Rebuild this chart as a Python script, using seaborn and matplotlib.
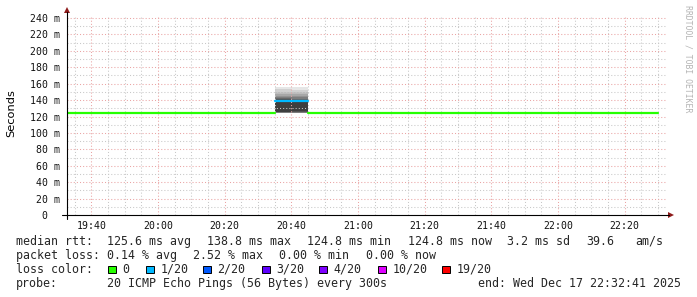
import numpy as np
import pandas as pd
import matplotlib
matplotlib.use("Agg")
import matplotlib.pyplot as plt
import matplotlib.dates as mdates
import seaborn as sns
from matplotlib.lines import Line2D
from matplotlib.patches import Rectangle, Polygon

# ---------------- data ----------------
first_step = "2025-12-17 19:30"
view_start = "2025-12-17 19:32:41"
view_end = "2025-12-17 22:32:41"

# median RTT (ms) per 5-minute step, 19:30 .. 22:25
median_ms = [124.8, 124.8, 124.8, 124.8, 124.8, 124.8, 124.8, 124.8, 124.8, 124.8,
             124.8, 124.8, 124.8, 138.8, 138.8, 124.8, 124.8, 124.8, 124.8, 124.8,
             124.8, 124.8, 124.8, 124.8, 124.8, 124.8, 124.8, 124.8, 124.8, 124.8,
             124.8, 124.8, 124.8, 124.8, 124.8, 124.8]
# lost pings (of 20) per step
lost_pings = [0, 0, 0, 0, 0, 0, 0, 0, 0, 0,
              0, 0, 0, 1, 1, 0, 0, 0, 0, 0,
              0, 0, 0, 0, 0, 0, 0, 0, 0, 0,
              0, 0, 0, 0, 0, 0]
# sorted individual pings (ms) for the two disturbed steps (20:35, 20:40)
smoke_steps = [13, 14]
smoke_pings_a = [124.3, 124.4, 124.5, 124.6, 124.7, 124.8, 124.9, 125.2, 126.0, 138.8,
                 139.6, 140.8, 142.0, 143.5, 145.5, 147.5, 150.0, 153.0, 156.0]
smoke_pings_b = [124.3, 124.4, 124.5, 124.6, 124.7, 124.8, 125.0, 125.3, 126.2, 138.8,
                 139.5, 140.6, 141.8, 143.2, 145.0, 147.0, 149.5, 152.5, 155.5]

y_ticks = [0, 20, 40, 60, 80, 100, 120, 140, 160, 180, 200, 220, 240]
y_labels = ["0  ", "20 m", "40 m", "60 m", "80 m", "100 m", "120 m", "140 m",
            "160 m", "180 m", "200 m", "220 m", "240 m"]

loss_labels = ["0", "1/20", "2/20", "3/20", "4/20", "10/20", "19/20"]
loss_colors = ["#26ff00", "#00b8ff", "#0059ff", "#5e00ff", "#7e00ff", "#dd00ff", "#ff0000"]
loss_palette = {0: "#26ff00", 1: "#00b8ff"}

stats_rtt = ["median rtt:", "125.6 ms avg", "138.8 ms max", "124.8 ms min",
             "124.8 ms now", "3.2 ms sd", "39.6", "am/s"]
stats_loss = ["packet loss:", "0.14 % avg", "2.52 % max", "0.00 % min", "0.00 % now"]
probe_text = ["probe:", "20 ICMP Echo Pings (56 Bytes) every 300s",
              "end: Wed Dec 17 22:32:41 2025"]

# ---------------- figure ----------------
W, H = 697, 297
sns.set_style("white")
plt.rcParams["font.family"] = ["DejaVu Sans"]
mono = "DejaVu Sans Mono"

fig = plt.figure(figsize=(W / 100, H / 100), dpi=100, facecolor="white")

def fx(x):
    return x / W

def fy(y):
    return 1 - y / H

ax = fig.add_axes([fx(67), fy(215), 600 / W, 200 / H])
ax.set_facecolor("white")

times = pd.date_range(first_step, periods=len(median_ms) + 1, freq="5min")

# smoke (drawn outer band first, inner band last)
for step, pings in zip(smoke_steps, [smoke_pings_a, smoke_pings_b]):
    n = len(pings)
    half = n // 2
    xs = [times[step], times[step + 1]]
    for ii in range(1, half + 1):
        lo = pings[ii - 1]
        hi = pings[n - ii]
        c = int(190 / half * (half - ii)) + 62
        ax.fill_between(xs, [lo, lo], [hi, hi], color="#%02x%02x%02x" % (c, c, c),
                        linewidth=0, zorder=1)

# median line coloured by loss
rows = []
run = 0
for i, (m, l) in enumerate(zip(median_ms, lost_pings)):
    if i > 0 and l != lost_pings[i - 1]:
        run += 1
    rows.append((times[i], m, l, run))
    rows.append((times[i + 1], m, l, run))
df = pd.DataFrame(rows, columns=["time", "median", "loss", "run"])
sns.lineplot(data=df, x="time", y="median", hue="loss", units="run", estimator=None,
             sort=False, palette=loss_palette, linewidth=1.6, legend=False, ax=ax,
             zorder=3)

ax.set_xlim(pd.Timestamp(view_start), pd.Timestamp(view_end))
ax.set_ylim(0, 243.7)

# grid
ax.xaxis.set_major_locator(mdates.MinuteLocator(byminute=[0, 20, 40]))
ax.xaxis.set_minor_locator(mdates.MinuteLocator(byminute=range(0, 60, 5)))
ax.xaxis.set_major_formatter(mdates.DateFormatter("%H:%M"))
ax.set_yticks(y_ticks)
ax.set_yticks(np.arange(10, 241, 20), minor=True)
ax.set_yticklabels(y_labels)
ax.set_axisbelow(False)
ax.grid(which="minor", color="#c8c8c8", linestyle=(0, (1, 2)), linewidth=0.75)
ax.grid(which="major", color="#eaa4a4", linestyle=(0, (1, 2)), linewidth=0.75)
ax.tick_params(which="both", length=0)
ax.tick_params(axis="y", pad=5.2)
ax.tick_params(axis="x", pad=4.5)
for lab in ax.get_xticklabels() + ax.get_yticklabels():
    lab.set_fontfamily(mono)
    lab.set_fontsize(7.1)
    lab.set_color("#111111")
ax.set_xlabel("")
ax.set_ylabel("")
for s in ax.spines.values():
    s.set_visible(False)

# axes lines with arrows
fig.add_artist(Line2D([fx(62), fx(669)], [fy(215), fy(215)], color="black", linewidth=0.8))
fig.add_artist(Line2D([fx(67), fx(67)], [fy(219), fy(12)], color="black", linewidth=0.8))
arrow_c = "#8e1b1b"
fig.add_artist(Polygon([[fx(674), fy(215)], [fx(668), fy(212)], [fx(668), fy(218)]],
                       closed=True, color=arrow_c, linewidth=0))
fig.add_artist(Polygon([[fx(67), fy(7)], [fx(64), fy(13)], [fx(70), fy(13)]],
                       closed=True, color=arrow_c, linewidth=0))

# axis title and watermark
fig.text(fx(11), fy(113), "Seconds", rotation=90, ha="center", va="center",
         fontsize=8.2, color="black")
fig.text(fx(688), fy(5), "RRDTOOL / TOBI OETIKER", rotation=270, ha="center", va="top",
         fontsize=5.9, family=mono, color="#b4b4b4")

# legend / statistics
row_y = [241.3, 255.3, 269.3, 283.7]
fs = 8.4
for x, t in zip([16, 107, 207, 307, 408, 507, 586, 635], stats_rtt):
    fig.text(fx(x), fy(row_y[0]), t, family=mono, fontsize=fs, va="center", ha="left")
for x, t in zip([16, 107, 193, 279, 366], stats_loss):
    fig.text(fx(x), fy(row_y[1]), t, family=mono, fontsize=fs, va="center", ha="left")
fig.text(fx(16), fy(row_y[2]), "loss color:", family=mono, fontsize=fs, va="center", ha="left")
sq_x = [108, 146, 203, 262, 319, 378, 442]
for x, lab, col in zip(sq_x, loss_labels, loss_colors):
    fig.add_artist(Rectangle((fx(x), fy(273)), 7.5 / W, 7.5 / H, facecolor=col,
                             edgecolor="black", linewidth=0.7))
    fig.text(fx(x + 14.5), fy(row_y[2]), lab, family=mono, fontsize=fs, va="center", ha="left")
for x, t in zip([16, 107, 478], probe_text):
    fig.text(fx(x), fy(row_y[3]), t, family=mono, fontsize=fs, va="center", ha="left")

fig.savefig("out.png", dpi=100, facecolor="white")
